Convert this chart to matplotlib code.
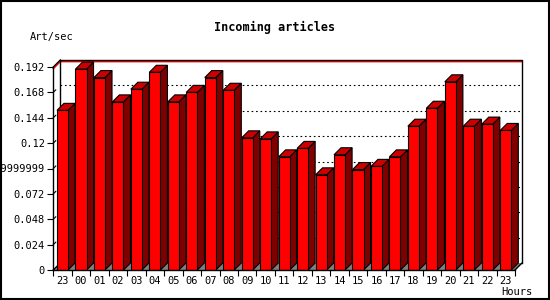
import matplotlib
matplotlib.use("Agg")
import matplotlib.pyplot as plt
from matplotlib.patches import Polygon, Rectangle

# hours shown on the x axis (last 25 hours)
hours = ['23', '00', '01', '02', '03', '04', '05', '06', '07', '08', '09', '10',
         '11', '12', '13', '14', '15', '16', '17', '18', '19', '20', '21', '22', '23']
# articles per second
rates = [0.151, 0.190, 0.182, 0.159, 0.171, 0.187, 0.159, 0.168, 0.182, 0.170,
         0.125, 0.124, 0.107, 0.115, 0.090, 0.109, 0.095, 0.098, 0.107, 0.136,
         0.153, 0.178, 0.136, 0.138, 0.132]
ytick_vals = [0, 0.024, 0.048, 0.072, 0.096, 0.12, 0.144, 0.168, 0.192]
ytick_labels = ['0', '0.024', '0.048', '0.072', '0.09599999999', '0.12',
                '0.144', '0.168', '0.192']
ymax = 0.192

FONT = 'DejaVu Sans Mono'
W, H = 550, 300

fig = plt.figure(figsize=(5.5, 3), dpi=100)
fig.patch.set_facecolor('white')
ax = fig.add_axes([53.3 / W, 30 / H, 461.7 / W, 203 / H])
n = len(rates)
ax.set_xlim(-0.5, n - 0.5)
ax.set_ylim(0, ymax)
ax.patch.set_visible(False)

# 3D depth (7px right, 7px up) in data units
dx = 7 / (461.7 / n)
dy = 7 / 203 * ymax
bw = 0.3  # half width of the bar front

x0, x1 = -0.5, n - 0.5

# floor
ax.add_patch(Polygon([(x0, 0), (x1, 0), (x1 + dx, dy), (x0 + dx, dy)],
                     closed=True, facecolor='#808080', edgecolor='none',
                     zorder=1, clip_on=False))
# back wall grid
for v in ytick_vals[1:-1]:
    ax.plot([x0 + dx, x1 + dx], [v + dy, v + dy], color='black', lw=0.8,
            ls=(0, (1.5, 2.5)), zorder=2, clip_on=False)
# red line just under the top
red_v = ymax - 0.0016
ax.plot([x0, x0 + dx, x1 + dx], [red_v, red_v + dy, red_v + dy],
        color='red', lw=1, zorder=2, clip_on=False)
# back wall frame
ax.plot([x0 + dx, x0 + dx, x1 + dx, x1 + dx], [dy, ymax + dy, ymax + dy, dy],
        color='black', lw=1, zorder=2.1, clip_on=False)
ax.plot([x0, x0 + dx], [ymax, ymax + dy], color='black', lw=1, zorder=2.1, clip_on=False)
ax.plot([x1, x1 + dx], [0, dy], color='black', lw=1, zorder=2, clip_on=False)
ax.plot([x0, x0 + dx], [0, dy], color='black', lw=1, zorder=2, clip_on=False)

# small diagonal marks off the front axis
for v in ytick_vals[1:-1]:
    ax.plot([x0, x0 + dx * 0.35], [v, v + dy * 0.35], color='black', lw=0.8,
            zorder=2, clip_on=False)

# bars
for i, v in enumerate(rates):
    z = 3 + i * 0.01
    side = [(i + bw, 0), (i + bw + dx, dy), (i + bw + dx, v + dy), (i + bw, v)]
    top = [(i - bw, v), (i + bw, v), (i + bw + dx, v + dy), (i - bw + dx, v + dy)]
    ax.add_patch(Polygon(side, closed=True, facecolor='#800000', edgecolor='black',
                         lw=0.8, zorder=z, clip_on=False))
    ax.add_patch(Polygon(top, closed=True, facecolor='#cc0000', edgecolor='black',
                         lw=0.8, zorder=z, clip_on=False))
ax.bar(range(n), rates, width=2 * bw, color='red', edgecolor='black', lw=0.8, zorder=4)

# axes
for s in ['top', 'right']:
    ax.spines[s].set_visible(False)
for s in ['left', 'bottom']:
    ax.spines[s].set_linewidth(1)
    ax.spines[s].set_zorder(5)
ax.set_yticks(ytick_vals)
ax.set_yticklabels(ytick_labels, fontfamily=FONT, fontsize=7.5)
ax.set_xticks(range(n))
ax.set_xticklabels(hours, fontfamily=FONT, fontsize=7.5)
ax.set_xticks([i - 0.5 for i in range(n + 1)], minor=True)
ax.tick_params(axis='x', which='major', length=0, pad=4)
ax.tick_params(axis='x', which='minor', length=4, width=0.8, direction='out')
ax.tick_params(axis='y', length=4, width=0.8, direction='out', pad=2)

# texts
fig.text(275 / W, 1 - 27 / H, 'Incoming articles', fontfamily=FONT,
         fontweight='bold', fontsize=8.5, ha='center', va='center')
fig.text(30 / W, 1 - 37 / H, 'Art/sec', fontfamily=FONT, fontsize=7.5,
         ha='left', va='center')
fig.text(533 / W, 1 - 292 / H, 'Hours', fontfamily=FONT, fontsize=7.5,
         ha='right', va='center')

# outer frame
fig.patches.append(Rectangle((0.5 / W, 1.5 / H), (W - 1.5) / W, (H - 2) / H,
                             transform=fig.transFigure, fill=False,
                             edgecolor='black', lw=1.5))

fig.savefig('out.png', dpi=100)
